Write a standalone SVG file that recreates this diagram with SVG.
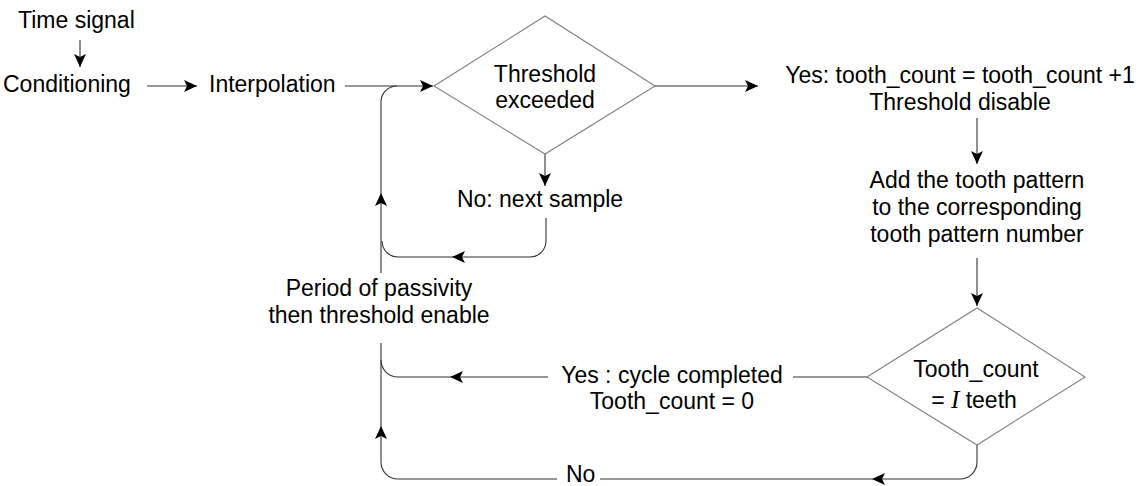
<svg xmlns="http://www.w3.org/2000/svg" xmlns:xlink="http://www.w3.org/1999/xlink" width="1145" height="486" viewBox="0 0 1145 486">
<style>
.t{font-family:"Liberation Sans",Arial,sans-serif;font-size:23px;fill:#000}
.m{text-anchor:middle}
.c{fill:none;stroke:#333;stroke-width:1.1}
.d{fill:#fff;stroke:#808080;stroke-width:1.1}
.ah{fill:#000}
</style>
<defs>
<path id="ah" class="ah" d="M0,0 L-13,-6 L-10,0 L-13,6 Z"/>
<marker id="arr" markerUnits="userSpaceOnUse" viewBox="-14 -7 15 14" refX="0" refY="0" markerWidth="15" markerHeight="14" orient="auto">
<path class="ah" d="M0,0 L-13,-6 L-10,0 L-13,6 Z"/>
</marker>
</defs>
<rect width="1145" height="486" fill="#fff"/>
<g id="connectors">
<path class="c" d="M80,40 V67" marker-end="url(#arr)"/>
<path class="c" d="M147,86 H197" marker-end="url(#arr)"/>
<path class="c" d="M345,86 H433" marker-end="url(#arr)"/>
<path class="c" d="M655,86 H758" marker-end="url(#arr)"/>
<path class="c" d="M545,154 V186" marker-end="url(#arr)"/>
<path class="c" d="M546,218 V241 A16,16 0 0 1 530,257 H398 A16,16 0 0 1 382,241"/>
<use xlink:href="#ah" transform="translate(452,257) rotate(180)"/>
<path class="c" d="M381,273 V102 A16,16 0 0 1 397,86"/>
<use xlink:href="#ah" transform="translate(381,193) rotate(-90)"/>
<path class="c" d="M381,343 V462 A17,17 0 0 0 398,479 H557"/>
<use xlink:href="#ah" transform="translate(381,426) rotate(-90)"/>
<path class="c" d="M600,479 H960 A17,17 0 0 0 977,462 V445"/>
<use xlink:href="#ah" transform="translate(872,479) rotate(180)"/>
<path class="c" d="M867,377 H793"/>
<path class="c" d="M548,377 H398 A17,17 0 0 1 381,360"/>
<use xlink:href="#ah" transform="translate(450,377) rotate(180)"/>
<path class="c" d="M977,118 V164" marker-end="url(#arr)"/>
<path class="c" d="M977,258 V306" marker-end="url(#arr)"/>
</g>
<g id="n-time"><text class="t" x="18" y="28">Time signal</text></g>
<g id="n-cond"><text class="t" x="3" y="92">Conditioning</text></g>
<g id="n-interp"><text class="t" x="209" y="92">Interpolation</text></g>
<g id="n-thresh">
<polygon class="d" points="434,86 545,16 655,86 545,154"/>
<text class="t m" x="545" y="82">Threshold</text>
<text class="t m" x="545" y="108">exceeded</text>
</g>
<g id="n-nosample"><text class="t m" x="540" y="207">No: next sample</text></g>
<g id="n-yes1">
<text class="t m" x="960" y="83">Yes: tooth_count = tooth_count +1</text>
<text class="t m" x="960" y="110">Threshold disable</text>
</g>
<g id="n-add">
<text class="t m" x="977" y="188">Add the tooth pattern</text>
<text class="t m" x="977" y="215">to the corresponding</text>
<text class="t m" x="977" y="242">tooth pattern number</text>
</g>
<g id="n-toothcount">
<polygon class="d" points="867,377 977,308 1085,377 977,445"/>
<text class="t m" x="976" y="377">Tooth_count</text>
<text class="t m" x="974" y="408">= <tspan font-family="Liberation Serif,serif" font-style="italic" font-size="25">I</tspan> teeth</text>
</g>
<g id="n-yes2">
<text class="t m" x="672" y="383">Yes : cycle completed</text>
<text class="t m" x="672" y="409">Tooth_count = 0</text>
</g>
<g id="n-no"><text class="t" x="566" y="482">No</text></g>
<g id="n-period">
<text class="t m" x="379" y="296">Period of passivity</text>
<text class="t m" x="379" y="323">then threshold enable</text>
</g>
</svg>
